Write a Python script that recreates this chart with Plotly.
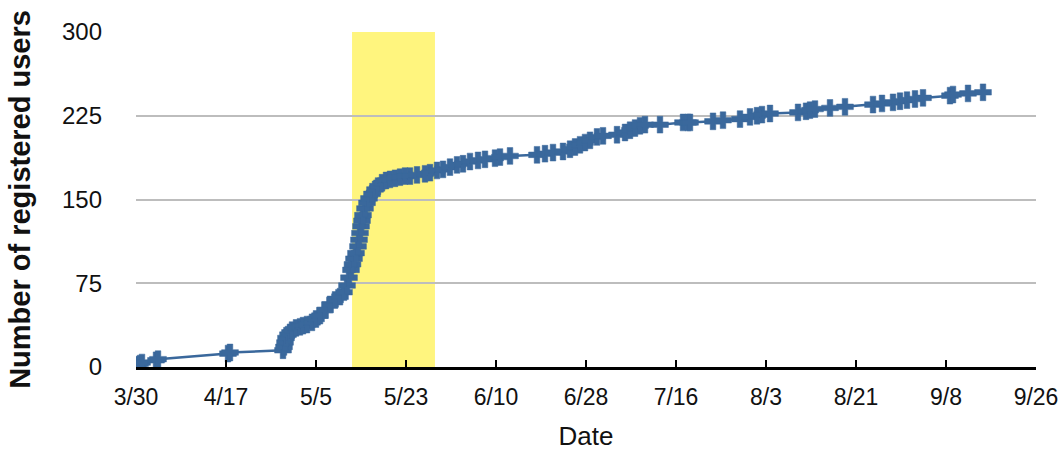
import pandas as pd
import plotly.graph_objects as go

# Cumulative registrations: days elapsed since launch (3/30) and user count
launch_date = "2010-03-30"
days_since_launch = [
    0.4, 0.8, 1.2, 4.0, 4.4, 18.4, 18.8,
    29.4, 29.6, 29.8, 30.0, 30.4, 30.8, 31.2, 32.0, 32.8, 33.4, 34.2, 35.2,
    36.0, 36.8, 37.8, 38.8, 39.8, 40.8, 41.6, 42.2, 42.6, 43.0, 43.3,
    43.6, 44.0, 44.4, 44.6, 44.8, 45.0, 45.2, 45.4, 45.8, 46.2, 46.6,
    47.2, 47.8, 48.4, 49.2, 50.0, 50.8, 51.8, 52.8, 53.8, 54.8, 56.2,
    57.8, 58.8, 60.2, 61.4, 62.8, 64.2, 65.4, 66.8, 68.4, 69.8, 71.8,
    72.8, 74.8, 80.2, 81.8, 83.4, 85.4, 86.8, 87.8, 88.8, 89.8, 90.8,
    92.2, 93.4, 96.2, 97.8, 98.8, 99.8, 100.8, 101.8, 104.8, 109.4,
    110.4, 110.8, 115.4, 117.4, 120.8, 122.8, 124.2, 125.2, 126.8,
    132.4, 134.0, 134.8, 135.8, 138.8, 141.8, 147.4, 149.2, 151.4,
    152.8, 154.2, 155.8, 157.4, 162.8, 163.4, 166.4, 169.4,
]
registered_users = [
    2, 3, 4, 6, 7, 12, 13,
    15, 18, 22, 26, 29, 31, 33, 35, 36, 37, 38, 40,
    43, 46, 51, 56, 60, 63, 67, 73, 80, 87, 92,
    97, 102, 108, 114, 120, 126, 131, 136, 142, 147, 151,
    155, 159, 162, 165, 167, 168, 169, 170, 171, 171, 172,
    173, 174, 176, 177, 179, 181, 182, 184, 185, 186, 187,
    188, 189, 190, 191, 192, 193, 195, 197, 199, 201, 203,
    206, 207, 208, 210, 212, 214, 216, 217, 217, 219,
    219, 219, 220, 221, 222, 224, 225, 226, 227,
    228, 229, 230, 231, 232, 233, 235, 236, 237,
    238, 239, 240, 241, 243, 244, 245, 246,
]

# Highlighted period
highlight_window = ["2010-05-12 05:00", "2010-05-28 19:00"]

# Axis ticks
x_tick_dates = ["2010-03-30", "2010-04-17", "2010-05-05", "2010-05-23",
                "2010-06-10", "2010-06-28", "2010-07-16", "2010-08-03",
                "2010-08-21", "2010-09-08", "2010-09-26"]
x_tick_labels = ["3/30", "4/17", "5/5", "5/23", "6/10", "6/28", "7/16",
                 "8/3", "8/21", "9/8", "9/26"]
y_ticks = [0, 75, 150, 225, 300]

dates = pd.Timestamp(launch_date) + pd.to_timedelta(days_since_launch, unit="D")

BLUE = "#3A689C"
FONT = "Liberation Sans, Arial, Helvetica, sans-serif"

fig = go.Figure()
fig.add_trace(go.Scatter(
    x=dates, y=registered_users,
    mode="lines+markers",
    line=dict(color=BLUE, width=2.5),
    marker=dict(symbol="cross", size=14, color=BLUE,
                line=dict(color=BLUE, width=0.5)),
    showlegend=False,
))

fig.add_shape(type="rect", xref="x", yref="y",
              x0=highlight_window[0], x1=highlight_window[1], y0=0, y1=300,
              fillcolor="#FFF57E", line=dict(width=0), layer="below")

fig.update_layout(
    width=1058, height=456,
    margin=dict(l=136, r=22, t=32, b=89),
    paper_bgcolor="white", plot_bgcolor="white",
    font=dict(family=FONT, size=24, color="#111111"),
)
fig.update_xaxes(
    range=[x_tick_dates[0], x_tick_dates[-1]],
    tickmode="array", tickvals=x_tick_dates, ticktext=x_tick_labels,
    showgrid=False, showline=True, linecolor="black", linewidth=2.5,
    ticks="inside", ticklen=7, tickwidth=2, tickcolor="black",
    ticklabelstandoff=8, ticklabeloverflow="allow",
    tickfont=dict(size=23),
    title=dict(text="Date", font=dict(size=26), standoff=18),
    zeroline=False, automargin=False,
)
fig.update_yaxes(
    range=[0, 300],
    tickmode="array", tickvals=y_ticks,
    showgrid=True, gridcolor="#BDBDBD", gridwidth=2,
    showline=False, zeroline=False, ticks="",
    ticklabelstandoff=33,
    tickfont=dict(size=24),
    title=dict(text="<b>Number of registered users</b>", font=dict(size=29),
               standoff=22),
    automargin=False,
)

fig.write_html("out.html")
